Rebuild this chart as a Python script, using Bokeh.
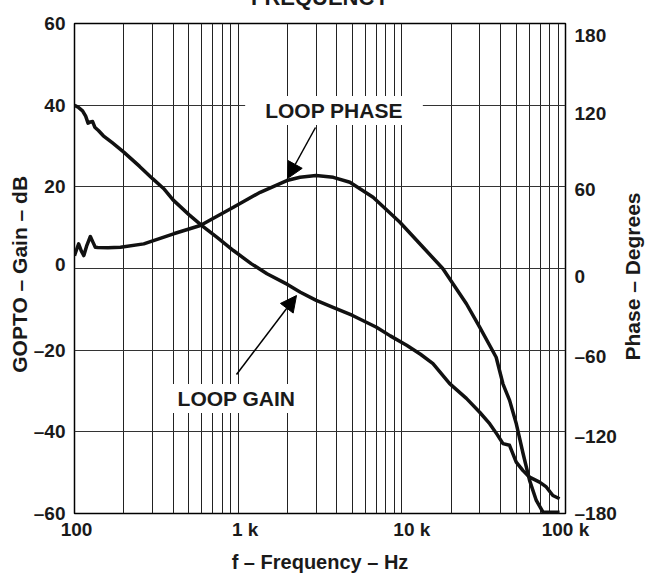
import numpy as np
from bokeh.plotting import figure
from bokeh.models import Range1d, LinearAxis, FixedTicker, Label, Arrow, NormalHead
from bokeh.embed import file_html
from bokeh.resources import INLINE

# ---------------- data ----------------
gain_freq = [100, 106, 112, 117, 121, 125, 129, 133, 140, 150, 170, 200, 250, 300, 350, 400,
             500, 600, 750, 935, 1200, 1500, 2000, 2400, 3000, 3800, 5000, 7000, 8500,
             10700, 13000, 15500, 19600, 24800, 29900, 34400, 38000, 41500, 45500, 50000,
             55000, 60300, 69400, 76300, 83700, 92000]
gain_db = [40.0, 39.4, 38.6, 37.3, 35.6, 35.9, 36.0, 34.6, 33.8, 32.5, 30.8, 28.5, 25.0, 22.0,
           19.6, 16.8, 13.2, 10.5, 7.5, 4.4, 1.2, -1.3, -3.9, -5.8, -7.8, -9.5, -11.5, -14.4,
           -16.5, -18.8, -21.0, -23.3, -28.2, -31.8, -35.2, -38.0, -40.5, -42.9, -43.3, -47.4,
           -49.5, -51.1, -52.3, -53.5, -55.6, -56.4]

phase_freq = [100, 103, 106, 110, 114, 119, 125, 130, 134, 139, 160, 191, 265, 403, 587, 935,
              1363, 1983, 2388, 2990, 3813, 4815, 6672, 9732, 13480, 17780, 24800, 29900,
              37700, 41460, 45550, 50060, 55090, 60330, 66310, 72880, 92000]
phase_deg = [9.5, 14.0, 18.1, 13.0, 9.5, 17.0, 23.5, 19.0, 15.6, 15.4, 15.3, 15.6, 18.1, 25.5,
             31.6, 45.0, 56.0, 64.6, 67.0, 68.3, 67.0, 63.4, 52.4, 34.0, 15.6, 0.0, -25.9,
             -43.1, -65.2, -84.7, -96.9, -114.1, -136.1, -155.7, -170.4, -179.0, -179.0]

x_ticks = [100, 1000, 10000, 100000]
x_tick_labels = ["100", "1 k", "10 k", "100 k"]
gain_ticks = [-60, -40, -20, 0, 20, 40, 60]
gain_tick_labels = ["–60", "–40", "–20", "0", "20", "40", "60"]
phase_ticks = [-180, -120, -60, 0, 60, 120, 180]
phase_tick_labels = ["–180", "–120", "–60", "0", "60", "120", "180"]
grid_freqs = [m * 10 ** e for e in (2, 3, 4) for m in range(1, 10)] + [100000]

# label nudges in pixels, as placed in the reference (style only)
x_label_dx = [2, 7, 10, 0]
gain_label_dy = [0, 0, 0, -4, 0, 0, 0]
phase_label_dy = [0, 5, 6, 8, 3, 8, 12]

# ---------------- layout helpers (page pixel -> data) ----------------
FL, FT, FW, FH = 74, 23, 491, 490   # frame in page pixels
SHIFT = 31                           # canvas rows hidden above the page top


def fx(px):
    return 10 ** (2 + (px - FL) / FW * 3)


def gy(py):
    return 60 - (py - FT) / FH * 120


def key(v):
    v = round(v, 3)
    return int(v) if float(v).is_integer() else v


x_pos = [key(t * 10 ** (d / FW * 3)) for t, d in zip(x_ticks, x_label_dx)]
gain_pos = [key(t - d * 120 / FH) for t, d in zip(gain_ticks, gain_label_dy)]
phase_pos = [key(t - d * 360 / FH) for t, d in zip(phase_ticks, phase_label_dy)]

FONT = "Liberation Sans"

p = figure(width=649, height=579 + SHIFT, x_axis_type="log",
           x_range=Range1d(100, 100000), y_range=Range1d(-60, 60),
           output_backend="svg", toolbar_location=None,
           min_border_left=74, min_border_right=84, min_border_top=23 + SHIFT,
           min_border_bottom=66, styles={"margin-top": f"-{SHIFT}px"})
p.extra_y_ranges = {"phase": Range1d(-180, 180)}

p.outline_line_color = "black"
p.outline_line_width = 1.5
p.background_fill_color = "white"
p.border_fill_color = "white"

# title, mostly above the visible page like in the reference
p.title.text = "FREQUENCY"
p.title.align = "center"
p.title.text_font = FONT
p.title.text_font_style = "bold"
p.title.text_font_size = "22px"
p.title.text_color = "#1a1a1a"
p.title.standoff = 27

# grids
p.xgrid.ticker = FixedTicker(ticks=grid_freqs)
p.xgrid.grid_line_color = "#222222"
p.xgrid.grid_line_width = 1
p.ygrid.ticker = FixedTicker(ticks=gain_ticks)
p.ygrid.grid_line_color = "#333333"
p.ygrid.grid_line_width = 1

# bottom axis
xa = p.below[0]
xa.ticker = FixedTicker(ticks=x_pos)
xa.major_label_overrides = dict(zip(x_pos, x_tick_labels))

# left axis
ya = p.left[0]
ya.ticker = FixedTicker(ticks=gain_pos)
ya.major_label_overrides = dict(zip(gain_pos, gain_tick_labels))

# right axis (tick labels)
ra = LinearAxis(y_range_name="phase", ticker=FixedTicker(ticks=phase_pos))
ra.major_label_overrides = dict(zip(phase_pos, phase_tick_labels))
p.add_layout(ra, "right")

for ax in (xa, ya, ra):
    ax.axis_line_color = None
    ax.major_tick_line_color = None
    ax.minor_tick_line_color = None
    ax.major_tick_out = 0
    ax.major_tick_in = 0
    ax.minor_tick_out = 0
    ax.minor_tick_in = 0
    ax.major_label_text_font = FONT
    ax.major_label_text_font_style = "bold"
    ax.major_label_text_font_size = "19px"
    ax.major_label_text_color = "#1a1a1a"
    ax.axis_label_text_font = FONT
    ax.axis_label_text_font_style = "bold"
    ax.axis_label_text_color = "#1a1a1a"
xa.major_label_standoff = 5
ya.major_label_standoff = 9
ra.major_label_standoff = 9

xa.axis_label = "f – Frequency – Hz"
xa.axis_label_text_font_size = "20px"
xa.axis_label_standoff = 8

ya.axis_label = "GOPTO – Gain – dB  "
ya.axis_label_text_font_size = "21px"
ya.axis_label_standoff = 0

# curves
p.line(gain_freq, gain_db, line_width=3.5, line_color="#111111", line_join="round")
p.line(phase_freq, phase_deg, y_range_name="phase", line_width=3.5, line_color="#111111",
       line_join="round")

# annotations
lab_kw = dict(text_font=FONT, text_font_style="bold", text_color="#1a1a1a")

p.add_layout(Label(x=fx(333.5), y=gy(110), text="LOOP PHASE", text_align="center",
                   text_baseline="middle", text_font_size="21px",
                   background_fill_color="white",
                   padding=dict(left=20, right=20, top=3, bottom=3), **lab_kw))
p.add_layout(Label(x=fx(236), y=gy(398), text="LOOP GAIN", text_align="center",
                   text_baseline="middle", text_font_size="21px",
                   background_fill_color="white",
                   padding=dict(left=11, right=11, top=3, bottom=3), **lab_kw))

p.add_layout(Arrow(end=NormalHead(size=16, fill_color="black", line_color="black"),
                   x_start=fx(315), y_start=gy(127), x_end=fx(287), y_end=gy(178),
                   line_width=1.5, line_color="black"))
p.add_layout(Arrow(end=NormalHead(size=16, fill_color="black", line_color="black"),
                   x_start=fx(236), y_start=gy(374), x_end=fx(296), y_end=gy(295),
                   line_width=1.5, line_color="black"))

# right axis title, as a label in the right side panel (canvas pixels)
p.add_layout(Label(x=632, y=307, x_units="canvas", y_units="canvas",
                   text="Phase – Degrees", angle=np.pi / 2, text_align="center",
                   text_baseline="alphabetic", text_font_size="21px", **lab_kw), "right")

open("out.html", "w").write(file_html(p, INLINE))
